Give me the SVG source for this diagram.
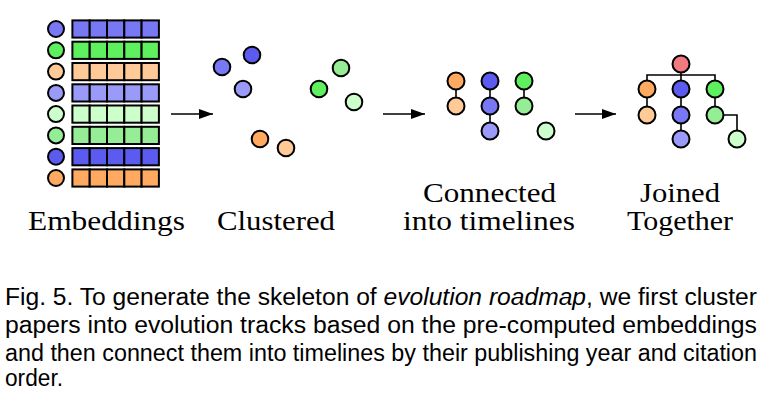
<svg xmlns="http://www.w3.org/2000/svg" width="772" height="418" viewBox="0 0 772 418">
<style>
.n{stroke:#000;stroke-width:2}
.c{stroke:#000;stroke-width:2}
.e{stroke:#000;stroke-width:1.6;fill:none}
.a{stroke:#000;stroke-width:1.5;fill:none}
.db{fill:#5b5bf0}.mb{fill:#7878f5}.lb{fill:#9a9af8}
.dg{fill:#5ef05e}.mg{fill:#95ee95}.pg{fill:#ccffcc}
.do{fill:#ffaa60}.lo{fill:#ffca98}.rd{fill:#f07a80}
.lbl{font-family:"Liberation Serif","Times New Roman",serif;font-size:28px;fill:#000}
.cap{font-family:"Liberation Sans",Arial,sans-serif;font-size:23.5px;fill:#000}
</style>
<defs>
<marker id="ah" markerWidth="14" markerHeight="10" refX="14" refY="5" orient="auto" markerUnits="userSpaceOnUse">
<path d="M0,0 L14,5 L0,10 Z" fill="#000"/>
</marker>
<g id="bar">
<rect x="72.4" y="-8.6" width="17.3" height="17.2" class="c"/>
<rect x="89.7" y="-8.6" width="17.3" height="17.2" class="c"/>
<rect x="107" y="-8.6" width="17.3" height="17.2" class="c"/>
<rect x="124.3" y="-8.6" width="17.3" height="17.2" class="c"/>
<rect x="141.6" y="-8.6" width="17.3" height="17.2" class="c"/>
</g>
</defs>

<g id="embeddings">
<g id="emb1" transform="translate(0,29)" class="mb"><circle cx="56" cy="0" r="8" class="n"/><use href="#bar"/></g>
<g id="emb2" transform="translate(0,50.3)" class="dg"><circle cx="56" cy="0" r="8" class="n"/><use href="#bar"/></g>
<g id="emb3" transform="translate(0,71.6)" class="lo"><circle cx="56" cy="0" r="8" class="n"/><use href="#bar"/></g>
<g id="emb4" transform="translate(0,92.9)" class="lb"><circle cx="56" cy="0" r="8" class="n"/><use href="#bar"/></g>
<g id="emb5" transform="translate(0,114.1)" class="pg"><circle cx="56" cy="0" r="8" class="n"/><use href="#bar"/></g>
<g id="emb6" transform="translate(0,135.4)" class="mg"><circle cx="56" cy="0" r="8" class="n"/><use href="#bar"/></g>
<g id="emb7" transform="translate(0,156.7)" class="db"><circle cx="56" cy="0" r="8" class="n"/><use href="#bar"/></g>
<g id="emb8" transform="translate(0,178)" class="do"><circle cx="56" cy="0" r="8" class="n"/><use href="#bar"/></g>
</g>

<g id="connectors">
<line x1="171" y1="114" x2="213" y2="114" class="a" marker-end="url(#ah)"/>
<line x1="383" y1="114" x2="425" y2="114" class="a" marker-end="url(#ah)"/>
<line x1="575" y1="114" x2="616" y2="114" class="a" marker-end="url(#ah)"/>
<line x1="456" y1="81" x2="456" y2="106" class="e"/>
<line x1="490" y1="81" x2="490" y2="131" class="e"/>
<line x1="524" y1="81" x2="524" y2="106" class="e"/>
<line x1="681" y1="64" x2="681" y2="139" class="e"/>
<polyline points="647,89 647,75 715,75 715,89" class="e"/>
<line x1="647" y1="89" x2="647" y2="115" class="e"/>
<line x1="715" y1="89" x2="715" y2="115" class="e"/>
<polyline points="715,115 737,115 737,139" class="e"/>
</g>

<g id="clustered">
<circle id="cl-db" cx="252" cy="55" r="8.3" class="n db"/>
<circle id="cl-mb" cx="222" cy="67" r="8.3" class="n mb"/>
<circle id="cl-lb" cx="243" cy="89" r="8.3" class="n lb"/>
<circle id="cl-dg" cx="319" cy="89" r="8.3" class="n dg"/>
<circle id="cl-mg" cx="341" cy="68" r="8.3" class="n mg"/>
<circle id="cl-pg" cx="354" cy="102" r="8.3" class="n pg"/>
<circle id="cl-do" cx="260" cy="139" r="8.3" class="n do"/>
<circle id="cl-lo" cx="286" cy="148" r="8.3" class="n lo"/>
</g>

<g id="connected">
<circle id="co-do" cx="456" cy="81" r="8.5" class="n do"/>
<circle id="co-lo" cx="456" cy="106" r="8.5" class="n lo"/>
<circle id="co-db" cx="490" cy="81" r="8.5" class="n db"/>
<circle id="co-mb" cx="490" cy="106" r="8.5" class="n mb"/>
<circle id="co-lb" cx="490" cy="131" r="8.5" class="n lb"/>
<circle id="co-dg" cx="524" cy="81" r="8.5" class="n dg"/>
<circle id="co-mg" cx="524" cy="106" r="8.5" class="n mg"/>
<circle id="co-pg" cx="546" cy="131" r="8.5" class="n pg"/>
</g>

<g id="joined">
<circle id="jo-rd" cx="681" cy="64" r="8.5" class="n rd"/>
<circle id="jo-do" cx="647" cy="89" r="8.5" class="n do"/>
<circle id="jo-lo" cx="647" cy="115" r="8.5" class="n lo"/>
<circle id="jo-db" cx="681" cy="89" r="8.5" class="n db"/>
<circle id="jo-mb" cx="681" cy="115" r="8.5" class="n mb"/>
<circle id="jo-lb" cx="681" cy="139" r="8.5" class="n lb"/>
<circle id="jo-dg" cx="715" cy="89" r="8.5" class="n dg"/>
<circle id="jo-mg" cx="715" cy="115" r="8.5" class="n mg"/>
<circle id="jo-pg" cx="737" cy="139" r="8.5" class="n pg"/>
</g>

<g id="labels">
<text class="lbl" x="28" y="230" textLength="157" lengthAdjust="spacingAndGlyphs">Embeddings</text>
<text class="lbl" x="217" y="230" textLength="118" lengthAdjust="spacingAndGlyphs">Clustered</text>
<text class="lbl" x="423" y="202" textLength="133" lengthAdjust="spacingAndGlyphs">Connected</text>
<text class="lbl" x="403" y="230" textLength="172" lengthAdjust="spacingAndGlyphs">into timelines</text>
<text class="lbl" x="640" y="202" textLength="80" lengthAdjust="spacingAndGlyphs">Joined</text>
<text class="lbl" x="627" y="230" textLength="106" lengthAdjust="spacingAndGlyphs">Together</text>
</g>

<g id="caption">
<text class="cap" x="5" y="305" textLength="752" lengthAdjust="spacingAndGlyphs">Fig. 5. To generate the skeleton of <tspan font-style="italic">evolution roadmap</tspan>, we first cluster</text>
<text class="cap" x="5" y="333" textLength="752" lengthAdjust="spacingAndGlyphs">papers into evolution tracks based on the pre-computed embeddings</text>
<text class="cap" x="5" y="361" textLength="752" lengthAdjust="spacingAndGlyphs">and then connect them into timelines by their publishing year and citation</text>
<text class="cap" x="5" y="386" textLength="58" lengthAdjust="spacingAndGlyphs">order.</text>
</g>
</svg>
